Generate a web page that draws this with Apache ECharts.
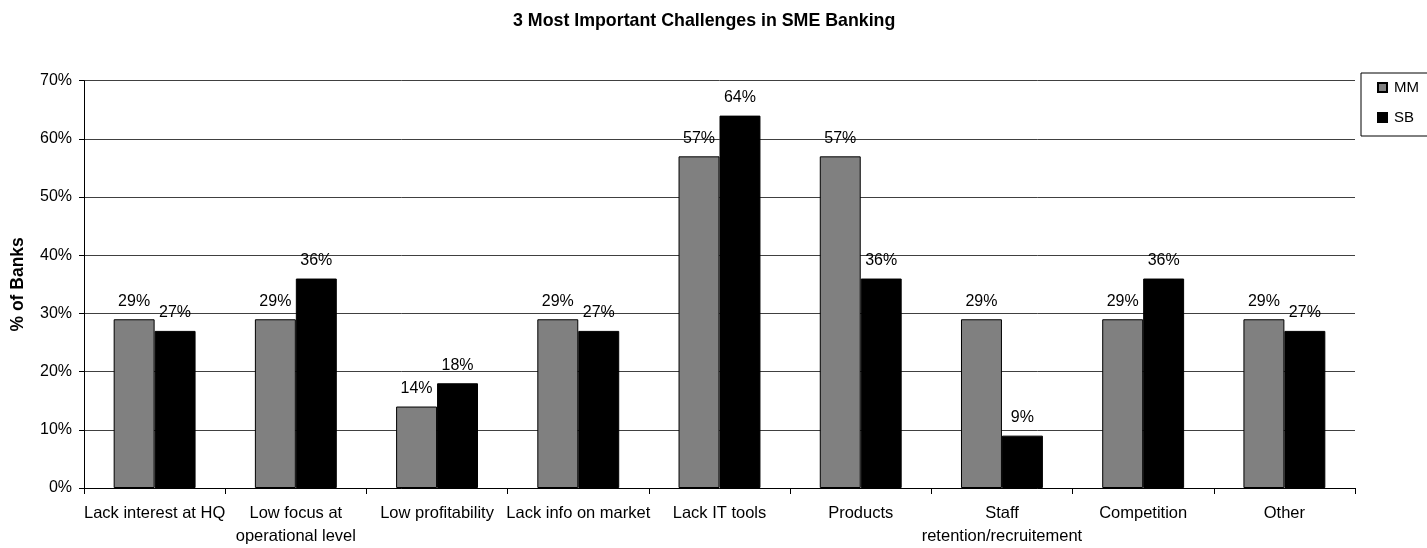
<!DOCTYPE html>
<html>
<head>
<meta charset="utf-8">
<script src="https://cdn.jsdelivr.net/npm/echarts@6/dist/echarts.min.js"></script>
<style>
  html, body { margin: 0; padding: 0; background: #fff; }
  #chart { width: 1427px; height: 548px; }
</style>
</head>
<body>
<div id="chart"></div>
<script>
// Survey results: share of banks naming each challenge among their top three
const categories = [
  'Lack interest at HQ',
  'Low focus at\noperational level',
  'Low profitability',
  'Lack info on market',
  'Lack IT tools',
  'Products',
  'Staff\nretention/recruitement',
  'Competition',
  'Other'
];
const mmValues = [29, 29, 14, 29, 57, 57, 29, 29, 29];
const sbValues = [27, 36, 18, 27, 64, 36, 9, 36, 27];
const yTicks = { min: 0, max: 70, interval: 10 };

const FONT = '"Liberation Sans", Arial, sans-serif';

const chart = echarts.init(document.getElementById('chart'), null, { renderer: 'canvas' });

const labelStyle = {
  show: true,
  position: 'top',
  distance: 10,
  color: '#000',
  fontFamily: FONT,
  fontSize: 16,
  formatter: p => p.value + '%'
};

chart.setOption({
  animation: false,
  backgroundColor: '#fff',
  textStyle: { fontFamily: FONT, color: '#000' },
  title: {
    text: '3 Most Important Challenges in SME Banking',
    left: 508,
    top: 7,
    textStyle: { fontFamily: FONT, fontSize: 17.8, fontWeight: 'bold', color: '#000' }
  },
  legend: {
    orient: 'vertical',
    left: 1361,
    top: 73,
    padding: [7, 30, 11, 16],
    itemGap: 15,
    itemWidth: 9,
    itemHeight: 9,
    icon: 'rect',
    borderColor: '#000',
    borderWidth: 1,
    backgroundColor: '#fff',
    textStyle: { fontFamily: FONT, fontSize: 15, color: '#000', padding: [0, 0, 0, 2] },
    data: ['MM', 'SB']
  },
  grid: { left: 84, right: 72, top: 80.7, bottom: 57.3, containLabel: false },
  xAxis: {
    type: 'category',
    data: categories,
    axisLine: { lineStyle: { color: '#000', width: 1 } },
    axisTick: { show: true, length: 6, inside: false, alignWithLabel: false, lineStyle: { color: '#000' } },
    axisLabel: {
      interval: 0,
      margin: 14,
      fontFamily: FONT,
      fontSize: 16.5,
      lineHeight: 23,
      color: '#000'
    }
  },
  yAxis: {
    type: 'value',
    min: yTicks.min,
    max: yTicks.max,
    interval: yTicks.interval,
    name: '% of Banks',
    nameLocation: 'middle',
    nameGap: 57,
    nameTextStyle: { fontFamily: FONT, fontSize: 17.5, fontWeight: 'bold', color: '#000' },
    axisLine: { show: true, lineStyle: { color: '#000', width: 1 } },
    axisTick: { show: true, length: 5, lineStyle: { color: '#000' } },
    axisLabel: {
      margin: 12,
      fontFamily: FONT,
      fontSize: 16,
      color: '#000',
      formatter: v => v + '%'
    },
    splitLine: { show: true, lineStyle: { color: '#404040', width: 1 } }
  },
  series: [
    {
      name: 'MM',
      type: 'bar',
      data: mmValues,
      barGap: '0%',
      barCategoryGap: '42%',
      itemStyle: { color: '#808080', borderColor: '#000', borderWidth: 1 },
      label: labelStyle
    },
    {
      name: 'SB',
      type: 'bar',
      data: sbValues,
      barGap: '0%',
      barCategoryGap: '42%',
      itemStyle: { color: '#000', borderColor: '#000', borderWidth: 1 },
      label: labelStyle
    }
  ]
});
</script>
</body>
</html>
